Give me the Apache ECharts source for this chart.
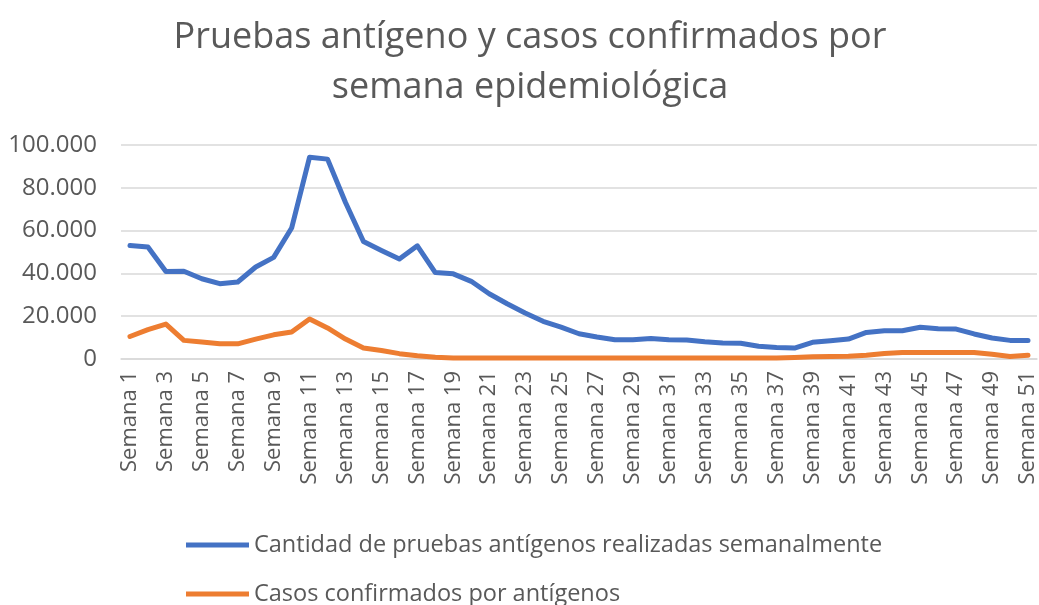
<!DOCTYPE html>
<html>
<head>
<meta charset="utf-8">
<script src="https://cdn.jsdelivr.net/npm/echarts@6/dist/echarts.min.js"></script>
<style>
    html, body { margin: 0; padding: 0; background: #fff; }
    #main { width: 1039px; height: 605px; }
</style>
</head>
<body>
<div id="main"></div>
<script>
// datos por semana epidemiológica
var semanas = [];
for (var i = 1; i <= 51; i++) {
    semanas.push('Semana ' + i);
}

var pruebas = [
    53000, 52300, 40900, 41000, 37500, 35200, 36000, 43000, 47500, 61200,
    94300, 93400, 73100, 54900, 50700, 46700, 52900, 40400, 39800, 36300,
    30500, 25800, 21500, 17600, 14900, 11800, 10300, 9000, 9000, 9600,
    9000, 8900, 8100, 7500, 7400, 6000, 5400, 5100, 7800, 8500,
    9300, 12400, 13200, 13200, 14800, 14100, 14000, 11700, 9800, 8700, 8700
];

var casos = [
    10500, 13700, 16300, 8700, 7900, 7100, 7100, 9300, 11300, 12600,
    18700, 14500, 9300, 5100, 4000, 2500, 1500, 800, 500, 500,
    500, 500, 500, 500, 500, 500, 500, 500, 500, 500,
    500, 500, 500, 500, 500, 500, 500, 700, 1000, 1200,
    1300, 1800, 2600, 3000, 3000, 3000, 3000, 3000, 2200, 1200, 1800
];

var nombres = ['Cantidad de pruebas antígenos realizadas semanalmente', 'Casos confirmados por antígenos'];

function miles(v) {
    return String(v).replace(/\B(?=(\d{3})+(?!\d))/g, '.');
}

var estiloLeyenda = {
    color: '#595959',
    fontSize: 23.5
};

var myChart = echarts.init(document.getElementById('main'));
var option = {
    color: ['#4472C4', '#ED7D31'],
    textStyle: {
        fontFamily: 'Open Sans'
    },
    title: {
        text: 'Pruebas antígeno y casos confirmados por\nsemana epidemiológica',
        left: 525,
        textAlign: 'center',
        top: 8,
        textStyle: {
            color: '#595959',
            fontSize: 36,
            fontWeight: 'normal',
            lineHeight: 50,
            fontFamily: 'Open Sans'
        }
    },
    // una leyenda por fila
    legend: [{
        left: 181,
        top: 528,
        icon: 'rect',
        itemWidth: 63,
        itemHeight: 5,
        textStyle: estiloLeyenda,
        data: [nombres[0]]
    }, {
        left: 181,
        top: 577,
        icon: 'rect',
        itemWidth: 63,
        itemHeight: 5,
        textStyle: estiloLeyenda,
        data: [nombres[1]]
    }],
    grid: {
        left: 121,
        right: 2,
        top: 145,
        bottom: 246,
        containLabel: false
    },
    xAxis: {
        type: 'category',
        boundaryGap: true,
        data: semanas,
        axisTick: { show: false },
        axisLine: {
            lineStyle: { color: '#D9D9D9', width: 1.5 }
        },
        axisLabel: {
            interval: 1,
            rotate: 90,
            margin: 12,
            color: '#595959',
            fontSize: 22
        }
    },
    yAxis: {
        type: 'value',
        min: 0,
        max: 100000,
        interval: 20000,
        axisLine: { show: false },
        axisTick: { show: false },
        axisLabel: {
            color: '#595959',
            fontSize: 24,
            margin: 24,
            formatter: miles
        },
        splitLine: {
            lineStyle: { color: '#D9D9D9', width: 1.5 }
        }
    },
    series: [{
        name: nombres[0],
        type: 'line',
        data: pruebas,
        symbol: 'none',
        lineStyle: { width: 5, join: 'round', cap: 'round' }
    }, {
        name: nombres[1],
        type: 'line',
        data: casos,
        symbol: 'none',
        lineStyle: { width: 5, join: 'round', cap: 'round' }
    }]
};
myChart.setOption(option);

window.onresize = function () {
    myChart.resize();
}
</script>
</body>
</html>
